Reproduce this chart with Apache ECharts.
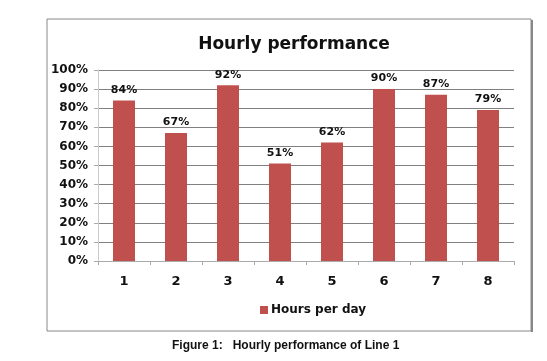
<!DOCTYPE html>
<html>
<head>
<meta charset="utf-8">
<script src="https://cdn.jsdelivr.net/npm/echarts@6/dist/echarts.min.js"></script>
<style>
html,body{margin:0;padding:0;background:#fff;}
#main{width:547px;height:361px;}
</style>
</head>
<body>
<div id="main"></div>
<script>
var hours = ['1', '2', '3', '4', '5', '6', '7', '8'];
var perf = [84, 67, 92, 51, 62, 90, 87, 79];
var yTicks = [0, 10, 20, 30, 40, 50, 60, 70, 80, 90, 100];

var myChart = echarts.init(document.getElementById('main'));
var font = 'DejaVu Sans';
var option = {
	backgroundColor: '#fff',
	animation: false,
	title: {
		text: 'Hourly performance',
		left: 289, top: 31,
		textAlign: 'center',
		textStyle: { fontFamily: font, fontSize: 17, fontWeight: 'bold', color: '#111' }
	},
	legend: {
		data: ['Hours per day'],
		left: 255, top: 299,
		itemWidth: 8, itemHeight: 8, itemGap: 4,
		icon: 'rect',
		textStyle: { fontFamily: font, fontSize: 12, fontWeight: 'bold', color: '#111', padding: [0, 0, 0, -2] }
	},
	grid: { left: 98, right: 33, top: 70, bottom: 100 },
	xAxis: {
		type: 'category',
		data: hours,
		axisLine: { lineStyle: { color: '#aaa' } },
		axisTick: { show: true, length: 4, lineStyle: { color: '#aaa' } },
		axisLabel: { fontFamily: font, fontSize: 13, fontWeight: 'bold', color: '#111', margin: 14 }
	},
	yAxis: {
		type: 'value',
		min: 0, max: 100, interval: 10,
		axisLine: { show: true, lineStyle: { color: '#ccc' } },
		axisTick: { show: true, length: 4, lineStyle: { color: '#aaa' } },
		splitLine: { lineStyle: { color: '#808080' } },
		axisLabel: {
			fontFamily: font, fontSize: 12, fontWeight: 'bold', color: '#111', margin: 10,
			formatter: function (v) { return yTicks.indexOf(v) >= 0 ? v + '%' : ''; }
		}
	},
	series: [{
		name: 'Hours per day',
		type: 'bar',
		data: perf,
		barWidth: 22,
		itemStyle: { color: '#c0504d' },
		label: {
			show: true, position: 'top', distance: 5,
			fontFamily: font, fontSize: 11, fontWeight: 'bold', color: '#111',
			formatter: '{c}%'
		}
	}],
	graphic: [{
		type: 'rect',
		shape: { x: 47, y: 19, width: 484, height: 312 },
		style: { fill: 'none', stroke: '#888', lineWidth: 1 },
		z: -1
	}, {
		type: 'rect',
		shape: { x: 531, y: 20, width: 2, height: 312 },
		style: { fill: '#888' },
		z: -1
	}, {
		type: 'text',
		left: 172, top: 340,
		style: { text: 'Figure 1:   Hourly performance of Line 1', fontFamily: 'Liberation Sans', fontSize: 12, fontWeight: 'bold', fill: '#111' }
	}]
};
myChart.setOption(option);
</script>
</body>
</html>
